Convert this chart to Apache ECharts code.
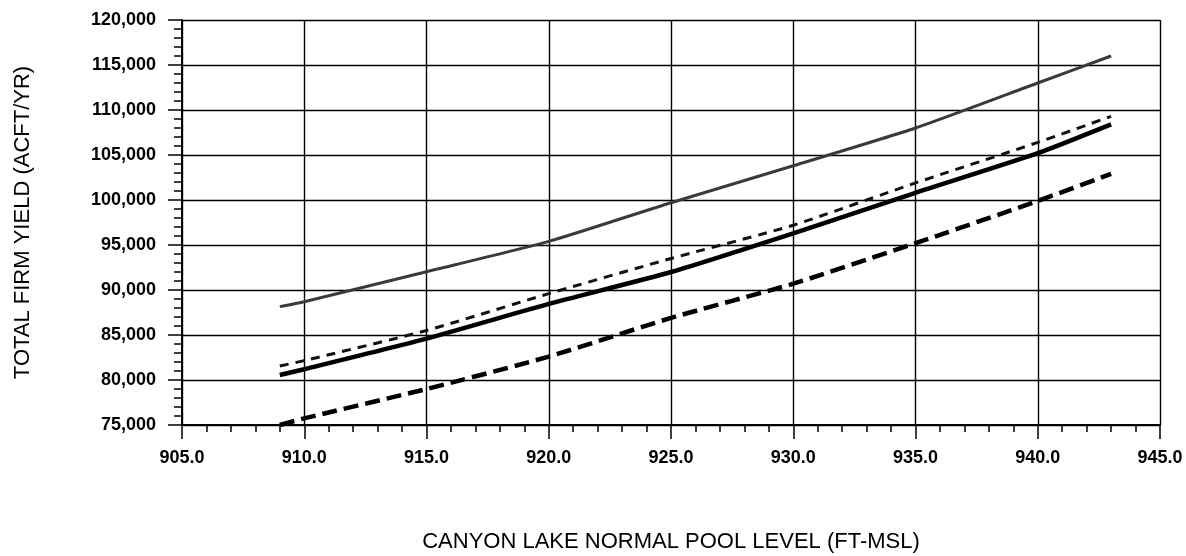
<!DOCTYPE html>
<html>
<head>
<meta charset="utf-8">
<script src="https://cdn.jsdelivr.net/npm/echarts@6/dist/echarts.min.js"></script>
<style>
  html, body { margin: 0; padding: 0; background: #fff; }
  #chart { width: 1186px; height: 556px; }
</style>
</head>
<body>
<div id="chart"></div>
<script>
// Pool levels (FT-MSL)
const poolLevels = [909, 910, 915, 920, 925, 930, 935, 940, 943];
// Total firm yield (ACFT/YR) for each curve
const upperThin   = [88150, 88700, 92030, 95400, 99700, 103800, 108000, 113000, 116000];
const dashedThin  = [81560, 82150, 85500, 89600, 93500, 97200, 101900, 106400, 109300];
const solidThick  = [80560, 81200, 84600, 88450, 92000, 96300, 100800, 105200, 108400];
const dashedThick = [75000, 75740, 79000, 82600, 86900, 90700, 95200, 99900, 102900];

const xTicks = { min: 905, max: 945, interval: 5 };
const yTicks = { min: 75000, max: 120000, interval: 5000 };

const pairs = arr => poolLevels.map((x, i) => [x, arr[i]]);

const chart = echarts.init(document.getElementById('chart'), null, { renderer: 'canvas' });
const labelFont = { fontFamily: 'Liberation Sans, Arial, sans-serif', color: '#000' };

chart.setOption({
  animation: false,
  backgroundColor: '#fff',
  grid: { left: 182, right: 26, top: 20, bottom: 131, containLabel: false, outerBoundsMode: 'none' },
  xAxis: {
    type: 'value',
    min: xTicks.min, max: xTicks.max, interval: xTicks.interval,
    name: 'CANYON LAKE NORMAL POOL LEVEL (FT-MSL)',
    nameLocation: 'middle',
    nameGap: 106,
    nameTextStyle: Object.assign({ fontSize: 22 }, labelFont),
    axisLine: { show: true, lineStyle: { color: '#000', width: 2 } },
    axisTick: { show: true, length: 14, lineStyle: { color: '#000', width: 1.5 } },
    minorTick: { show: true, splitNumber: 5, length: 7, lineStyle: { color: '#000', width: 1.5 } },
    splitLine: { show: true, lineStyle: { color: '#000', width: 1.4 } },
    axisLabel: Object.assign({ fontSize: 18, fontWeight: 'bold', margin: 24, formatter: v => v.toFixed(1) }, labelFont)
  },
  yAxis: {
    type: 'value',
    min: yTicks.min, max: yTicks.max, interval: yTicks.interval,
    name: 'TOTAL FIRM YIELD (ACFT/YR)',
    nameLocation: 'middle',
    nameGap: 148,
    nameTextStyle: Object.assign({ fontSize: 22 }, labelFont),
    axisLine: { show: true, lineStyle: { color: '#000', width: 2 } },
    axisTick: { show: true, length: 14, lineStyle: { color: '#000', width: 1.5 } },
    minorTick: { show: true, splitNumber: 5, length: 8, lineStyle: { color: '#000', width: 1.5 } },
    splitLine: { show: true, lineStyle: { color: '#000', width: 1.4 } },
    axisLabel: Object.assign({ fontSize: 18, fontWeight: 'bold', margin: 26, formatter: v => v.toLocaleString('en-US') }, labelFont)
  },
  series: [
    {
      name: 'Upper', type: 'line', data: pairs(upperThin), showSymbol: false, smooth: 0.2,
      lineStyle: { color: '#3a3a3a', width: 3, type: 'solid' }, z: 3
    },
    {
      name: 'Dashed thin', type: 'line', data: pairs(dashedThin), showSymbol: false, smooth: 0.2,
      lineStyle: { color: '#111', width: 3, type: [9, 7] }, z: 3
    },
    {
      name: 'Solid thick', type: 'line', data: pairs(solidThick), showSymbol: false, smooth: 0.2,
      lineStyle: { color: '#000', width: 4.5, type: 'solid' }, z: 4
    },
    {
      name: 'Dashed thick', type: 'line', data: pairs(dashedThick), showSymbol: false, smooth: 0.2,
      lineStyle: { color: '#000', width: 4.5, type: [15, 7] }, z: 4
    }
  ]
});
</script>
</body>
</html>
